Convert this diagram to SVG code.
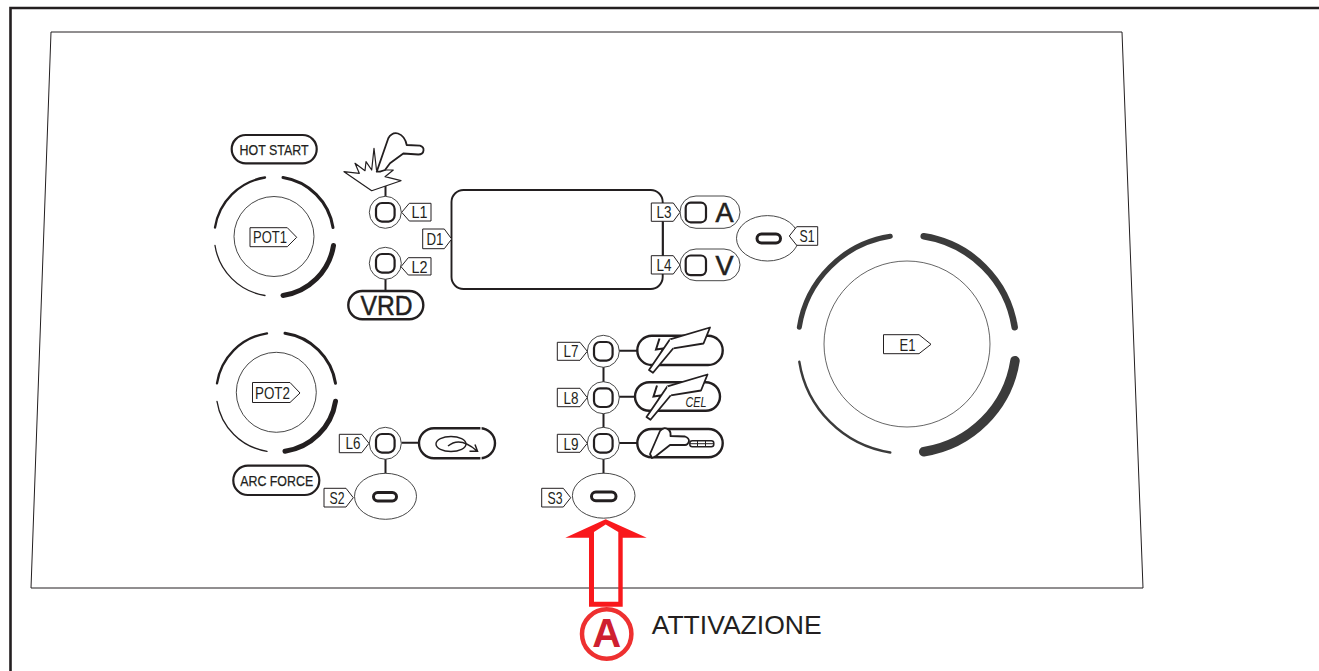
<svg xmlns="http://www.w3.org/2000/svg" width="1319" height="671" viewBox="0 0 1319 671">
<style>
text{font-family:"Liberation Sans",Arial,sans-serif;fill:#231f20}
.tag{fill:#fff;stroke:#231f20;stroke-width:1}
.tl{font-size:17px;text-anchor:middle}
.ln{fill:none;stroke:#231f20;stroke-width:2}
.thin{fill:#fff;stroke:#333;stroke-width:.9}
.sq{fill:none;stroke:#231f20;stroke-width:2.2}
.pill{fill:#fff;stroke:#231f20;stroke-width:2.4}
.btn{fill:none;stroke:#231f20;stroke-width:3}
.arc{fill:none;stroke:#231f20;stroke-linecap:round}
.earc{fill:none;stroke:#3b3b3b;stroke-linecap:round}
.pt{font-size:15.500px;text-anchor:middle;stroke:#231f20;stroke-width:.25}
.ic{fill:#fff;stroke:#231f20;stroke-width:1.800;stroke-linejoin:round}
</style>
<defs>
<g id="led"><circle r="16" class="thin"/><rect x="-9.3" y="-9.3" width="18.6" height="18.6" rx="6" class="sq"/></g>
<g id="bolt">
<path class="ln" d="M659.500 338.500L656 349.500L663 348.500L656 366" style="stroke-width:2"/>
<path class="ic" d="M670 339.300L710 327.500L703.500 343.500L673.300 348.300L653 372.800L649 370Z"/>
<path d="M670 339.300L673.300 348.300" stroke="#fff" stroke-width="1"/>
</g>
</defs>
<g id="frame"><path d="M10.500 671V8H1319" fill="none" stroke="#231f20" stroke-width="2.600"/></g>
<g id="panel"><path d="M51 32H1122L1143 588H31Z" fill="#fff" stroke="#231f20" stroke-width="1"/></g>
<g id="connectors">
<path class="ln" d="M385.500 186V197M385.500 279V291M385.500 459V474M401.500 442.700H419M603.500 367V474M619 350.700H637.500M619 396.700H635M619 443H637.500"/>
<path class="ln" d="M663 222V256" style="stroke-width:1.600"/>
</g>
<g id="POT1">
<circle cx="274" cy="236.500" r="40" class="thin"/>
<path class="arc" stroke-width="2.300" d="M215 227.500A60 60 0 0 1 265 177.500"/>
<path class="arc" stroke-width="3" d="M283 177.500A60 60 0 0 1 333 227.500"/>
<path class="arc" stroke-width="5" d="M333.500 245.500A60 60 0 0 1 283 295.500"/>
<path class="arc" stroke-width="1.300" d="M215 245.500A60 60 0 0 0 265 295.500"/>
<path class="tag" d="M250 227.700H287.300L296.700 237.300L287.300 246.700H250Z"/>
<text x="270" y="243.300" class="tl" textLength="34" lengthAdjust="spacingAndGlyphs">POT1</text>
</g>
<g id="POT2">
<circle cx="276.300" cy="392.300" r="40" class="thin"/>
<path class="arc" stroke-width="2.300" d="M217 383.300A60 60 0 0 1 267 333.300"/>
<path class="arc" stroke-width="3" d="M285 333.300A60 60 0 0 1 335.500 383.300"/>
<path class="arc" stroke-width="5" d="M335.500 401.300A60 60 0 0 1 285 451.300"/>
<path class="arc" stroke-width="1.300" d="M217 401.300A60 60 0 0 0 267 451.300"/>
<path class="tag" d="M252.500 382.500H290L300 393L290 402.500H252.500Z"/>
<text x="272.500" y="399" class="tl" textLength="35" lengthAdjust="spacingAndGlyphs">POT2</text>
</g>
<g id="hot-start"><rect x="231.700" y="135" width="85" height="28.300" rx="14" class="pill" style="stroke-width:2.200"/>
<text x="274" y="155" class="pt" textLength="69" lengthAdjust="spacingAndGlyphs">HOT START</text></g>
<g id="arc-force"><rect x="233.300" y="465.700" width="86" height="29.300" rx="14.600" class="pill" style="stroke-width:2.200"/>
<text x="276.700" y="486.200" class="pt" textLength="73" lengthAdjust="spacingAndGlyphs">ARC FORCE</text></g>
<g id="arc-icon">
<path class="ic" style="stroke-width:1.200" d="M344 171.700L359.300 173.300L355 163.300L365 170.700L366 161.700L371.700 170L374 148.300L376.500 170L393.300 170L385 176.700L401 180.700L371.700 190.700Z"/>
<path class="ic" d="M376.700 171.700L388.300 138.300Q392 132 398 133.500Q405 136 406.700 145L420 145.700Q424 147 423.500 150.500Q423 154.500 418.300 154.500L403.300 153.500L390 163.300L385 170L380 171.700Z"/>
</g>
<g id="L1"><use href="#led" x="385.300" y="212.300"/><path class="tag" d="M401.700 212.300L409.300 203.300H431V221H409.300Z"/><text x="419.500" y="218.300" class="tl" textLength="16" lengthAdjust="spacingAndGlyphs">L1</text></g>
<g id="L2"><use href="#led" x="385.300" y="263.300"/><path class="tag" d="M401 266.700L408.300 257.700H431V275H408.300Z"/><text x="419.500" y="272.500" class="tl" textLength="16" lengthAdjust="spacingAndGlyphs">L2</text></g>
<g id="VRD"><rect x="348.300" y="291" width="75" height="28.300" rx="14" class="pill"/>
<text x="386.500" y="315" font-size="28" text-anchor="middle" textLength="52" lengthAdjust="spacingAndGlyphs" stroke="#231f20" stroke-width=".5">VRD</text></g>
<g id="D1"><rect x="451.500" y="190" width="211.200" height="99" rx="12" fill="#fff" stroke="#231f20" stroke-width="1.900"/>
<path class="tag" d="M422.700 229H444.300L451.700 239L444.300 248.700H422.700Z"/><text x="435" y="245" class="tl" textLength="17" lengthAdjust="spacingAndGlyphs">D1</text></g>
<g id="L3"><rect x="680" y="196" width="60" height="32.300" rx="16" class="thin"/><rect x="685.700" y="202.700" width="20.300" height="19.600" rx="5" class="sq"/>
<text x="724.500" y="222.300" font-size="27" text-anchor="middle" stroke="#231f20" stroke-width=".6">A</text>
<path class="tag" d="M651.300 203H673.300L680 212.300L673.300 221.300H651.300Z"/><text x="664" y="218" class="tl" textLength="15" lengthAdjust="spacingAndGlyphs">L3</text></g>
<g id="L4"><rect x="680" y="249" width="60" height="31.700" rx="16" class="thin"/><rect x="685.700" y="255.500" width="20.300" height="19.600" rx="5" class="sq"/>
<text x="724.500" y="275" font-size="27" text-anchor="middle" stroke="#231f20" stroke-width=".6">V</text>
<path class="tag" d="M651.300 255.700H673.300L680 265L673.300 274H651.300Z"/><text x="664" y="271" class="tl" textLength="15" lengthAdjust="spacingAndGlyphs">L4</text></g>
<g id="S1"><ellipse cx="767.500" cy="238.300" rx="31" ry="22.700" class="thin"/><rect x="757" y="234" width="23.500" height="9" rx="4.500" class="btn"/>
<path class="tag" d="M789.300 236L796.700 226.700H817.700V245.300H796.700Z"/><text x="807" y="242" class="tl" textLength="15" lengthAdjust="spacingAndGlyphs">S1</text></g>
<g id="E1">
<circle cx="907" cy="344" r="83" class="thin" style="stroke:#555"/>
<path class="earc" stroke-width="5" d="M799.300 327.300A109 109 0 0 1 890.300 236.300"/>
<path class="earc" stroke-width="6.500" d="M923.700 236.300A109 109 0 0 1 1014.700 327.300"/>
<path class="earc" stroke-width="9.500" d="M1015 360.700A109 109 0 0 1 923.700 451.700"/>
<path class="earc" stroke-width="2.400" d="M799.300 361.700A109 109 0 0 0 890.300 452.500"/>
<path class="tag" d="M883.500 334.700H919L931 344.300L919 353.700H883.500Z"/><text x="907.500" y="350.500" class="tl" textLength="16" lengthAdjust="spacingAndGlyphs">E1</text>
</g>
<g id="L6"><use href="#led" x="385.300" y="443.300"/><path class="tag" d="M339.300 434.300H361.700L369 443.300L361.700 452.700H339.300Z"/><text x="353" y="449" class="tl" textLength="15" lengthAdjust="spacingAndGlyphs">L6</text>
<rect x="419" y="428.300" width="76" height="30" rx="15" class="pill"/><path d="M481 426V431M481 456V461" stroke="#fff" stroke-width="1.200"/>
<ellipse cx="451" cy="444" rx="15" ry="7.500" fill="none" stroke="#231f20" stroke-width="1.400"/>
<path d="M448 446Q460 436 476.700 450.700M469.500 451.200L477.500 451.300L475 444.500" fill="none" stroke="#231f20" stroke-width="1.500"/></g>
<g id="S2"><ellipse cx="385.500" cy="496.300" rx="31" ry="23" class="thin"/><rect x="373.500" y="492.500" width="23" height="8.500" rx="4.200" class="btn"/>
<path class="tag" d="M324 488.300H346L353.300 497.700L346 507H324Z"/><text x="337" y="504" class="tl" textLength="15" lengthAdjust="spacingAndGlyphs">S2</text></g>
<g id="L7"><use href="#led" x="603.300" y="351.300"/><path class="tag" d="M557.300 342.300H580L587.300 351.300L580 360.300H557.300Z"/><text x="571" y="357" class="tl" textLength="15" lengthAdjust="spacingAndGlyphs">L7</text>
<rect x="637.300" y="335.700" width="85.400" height="29.300" rx="14.600" class="pill"/><use href="#bolt"/></g>
<g id="L8"><use href="#led" x="603.300" y="397.700"/><path class="tag" d="M557.300 388.300H580L587.300 397.700L580 406.700H557.300Z"/><text x="571" y="403.500" class="tl" textLength="15" lengthAdjust="spacingAndGlyphs">L8</text>
<rect x="635" y="382.300" width="85" height="28.400" rx="14.200" class="pill"/><use href="#bolt" x="-2.500" y="47"/>
<text x="696" y="406.700" font-size="14" font-style="italic" text-anchor="middle" textLength="21" lengthAdjust="spacingAndGlyphs">CEL</text></g>
<g id="L9"><use href="#led" x="603.300" y="443.300"/><path class="tag" d="M557.300 434.300H580L587.300 443.300L580 452.300H557.300Z"/><text x="571" y="449.500" class="tl" textLength="15" lengthAdjust="spacingAndGlyphs">L9</text>
<rect x="637.300" y="429" width="85.400" height="28.300" rx="14.100" class="pill"/>
<path class="ic" d="M650 454L660 431Q664 426 669 430Q671 432 670.500 436L685 436.500Q689 438 689 441Q688 445 685 445L670 445L656 456L652 458Z"/>
<rect x="689.800" y="440.700" width="24" height="6" rx="2.500" fill="none" stroke="#231f20" stroke-width="1.500"/>
<path d="M690 443.700H714M697.500 441V446M705.500 441V446" stroke="#231f20" stroke-width="1"/></g>
<g id="S3"><ellipse cx="603.700" cy="495.700" rx="31.300" ry="22.500" class="thin"/><rect x="591.500" y="492" width="24.500" height="8.800" rx="4.300" class="btn"/>
<path class="tag" d="M541.700 488.300H563.300L570.700 497.700L563.300 507H541.700Z"/><text x="555" y="504" class="tl" textLength="15" lengthAdjust="spacingAndGlyphs">S3</text></g>
<g id="arrow-A">
<path fill="#f9181c" fill-rule="evenodd" d="M605.700 519.300L646.700 537.700H622.700V606.700H589V537.700H565.300ZM605.700 524.500L594 532V601.700H618.300V532Z"/>
<circle cx="606.700" cy="634" r="24.700" fill="#fff" stroke="#ee3030" stroke-width="4.500"/>
<text x="606.700" y="647.300" font-size="40" font-weight="700" text-anchor="middle" style="fill:#cf2030">A</text>
<text x="651.700" y="634" font-size="26.500" textLength="170" lengthAdjust="spacingAndGlyphs">ATTIVAZIONE</text>
</g>
</svg>
